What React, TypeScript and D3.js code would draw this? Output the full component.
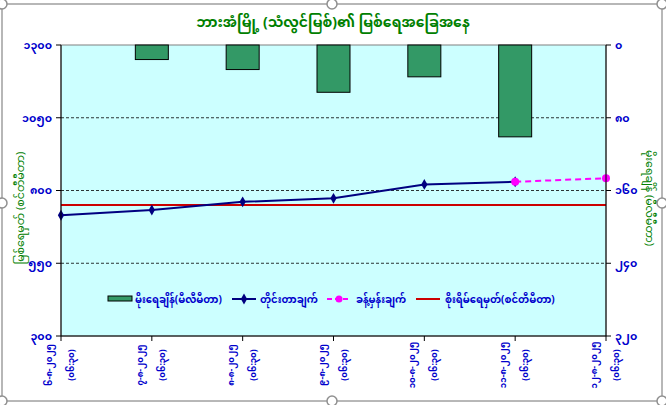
import * as d3 from 'd3'

const dates = ['၆-၈-၂၀၂၅', '၇-၈-၂၀၂၅', '၈-၈-၂၀၂၅', '၉-၈-၂၀၂၅', '၁၀-၈-၂၀၂၅', '၁၁-၈-၂၀၂၅', '၁၂-၈-၂၀၂၅']
const times = ['(၀၆:၃၀)', '(၀၆:၃၀)', '(၀၆:၃၀)', '(၀၆:၃၀)', '(၀၆:၃၀)', '(၀၆:၃၀)', '(၀၆:၃၀)']
const rainfall: (number | null)[] = [null, 16, 27, 52, 35, 101, null]
const measured: (number | null)[] = [715, 733, 761, 773, 821, 830, null]
const forecast: (number | null)[] = [null, null, null, null, null, 830, 842]
const dangerLevel = 750

const leftTicks = [300, 550, 800, 1050, 1300]
const rightTicks = [0, 80, 160, 240, 320]

const myDigits = '၀၁၂၃၄၅၆၇၈၉'
const toMy = (n: number) => String(n).replace(/\d/g, d => myDigits[+d])

const title = 'ဘားအံမြို့ (သံလွင်မြစ်)၏ မြစ်ရေအခြေအနေ'
const leftTitle = 'မြစ်ရေမှတ် (စင်တီမီတာ)'
const rightTitle = 'မိုးရေချိန် (မီလီမီတာ)'
const legendNames = ['မိုးရေချိန်(မီလီမီတာ)', 'တိုင်းတာချက်', 'ခန့်မှန်းချက်', 'စိုးရိမ်ရေမှတ်(စင်တီမီတာ)']

const W = 666
const H = 405
const plot = { left: 61, right: 606, top: 45, bottom: 336 }
const FONT = '"Noto Sans Myanmar", "Myanmar Text", Padauk, "Noto Sans", sans-serif'
const BLUE = '#0000cc'
const GREEN = '#008000'

export default function App() {
  const x = d3.scalePoint<number>()
    .domain(dates.map((_, i) => i))
    .range([plot.left, plot.right])
  const yL = d3.scaleLinear().domain([300, 1300]).range([plot.bottom, plot.top])
  const yR = d3.scaleLinear().domain([0, 320]).range([plot.top, plot.bottom])
  const barW = 33

  const line = d3.line<number | null>()
    .defined(d => d != null)
    .x((_, i) => x(i)!)
    .y(d => yL(d as number))

  const diamond = d3.symbol(d3.symbolDiamond, 34)()
  const handles = [
    [2, 4], [332, 4], [662, 4],
    [2, 203], [662, 203],
    [2, 401], [332, 401], [662, 401],
  ]

  const legY = 299
  return (
    <svg width={W} height={H} style={{ position: 'absolute', left: 0, top: 0, fontFamily: FONT }}>
      <rect x={0} y={0} width={W} height={H} fill="#fff" />
      {/* chart border */}
      <rect x={2} y={4} width={660} height={397} fill="#fff" stroke="#a0a0a0" strokeWidth={1.5} />

      <text x={333} y={27} textAnchor="middle" fill={GREEN} fontSize={14} fontWeight="bold">{title}</text>

      {/* plot area */}
      <rect x={plot.left} y={plot.top} width={plot.right - plot.left} height={plot.bottom - plot.top}
        fill="#ccffff" stroke="#808080" strokeWidth={1} />

      {leftTicks.slice(1, -1).map(t => (
        <line key={t} x1={plot.left} x2={plot.right} y1={yL(t)} y2={yL(t)}
          stroke="#000" strokeWidth={0.8} strokeDasharray="3,2" />
      ))}

      {/* rainfall bars */}
      {rainfall.map((v, i) => v == null ? null : (
        <rect key={i} x={x(i)! - barW / 2} y={yR(0)} width={barW} height={yR(v) - yR(0)}
          fill="#339966" stroke="#000" strokeWidth={1} />
      ))}

      {/* danger level */}
      <line x1={plot.left} x2={plot.right} y1={yL(dangerLevel)} y2={yL(dangerLevel)} stroke="#cc0000" strokeWidth={2} />

      {/* measured */}
      <path d={line(measured) ?? ''} fill="none" stroke="#000080" strokeWidth={2} />
      {measured.map((v, i) => v == null ? null : (
        <path key={i} d={diamond} transform={`translate(${x(i)},${yL(v)})`} fill="#000080" />
      ))}

      {/* forecast */}
      <path d={line(forecast) ?? ''} fill="none" stroke="#ff00ff" strokeWidth={2} strokeDasharray="6,4" />
      {forecast.map((v, i) => v == null ? null : (
        <circle key={i} cx={x(i)} cy={yL(v)} r={4} fill="#ff00ff" />
      ))}

      {/* axes */}
      <line x1={plot.left} x2={plot.left} y1={plot.top} y2={plot.bottom} stroke="#000" />
      <line x1={plot.right} x2={plot.right} y1={plot.top} y2={plot.bottom} stroke="#000" />
      <line x1={plot.left} x2={plot.right} y1={plot.bottom} y2={plot.bottom} stroke="#000" />

      {leftTicks.map(t => (
        <g key={t}>
          <line x1={plot.left - 5} x2={plot.left} y1={yL(t)} y2={yL(t)} stroke="#000" />
          <text x={plot.left - 9} y={yL(t)} dy="0.35em" textAnchor="end" fill={BLUE} fontSize={11} fontWeight="bold">{toMy(t)}</text>
        </g>
      ))}
      {rightTicks.map(t => (
        <g key={t}>
          <line x1={plot.right} x2={plot.right + 5} y1={yR(t)} y2={yR(t)} stroke="#000" />
          <text x={plot.right + 9} y={yR(t)} dy="0.35em" textAnchor="start" fill={BLUE} fontSize={11} fontWeight="bold">{toMy(t)}</text>
        </g>
      ))}
      {dates.map((d, i) => (
        <g key={i}>
          <line x1={x(i)} x2={x(i)} y1={plot.bottom} y2={plot.bottom + 5} stroke="#000" />
          <g transform={`translate(${x(i)},365) rotate(-90)`}>
            <text x={0} y={-9} textAnchor="middle" fill={BLUE} fontSize={8.5} fontWeight="bold">{d}</text>
            <text x={0} y={13} textAnchor="middle" fill={BLUE} fontSize={8.5} fontWeight="bold">{times[i]}</text>
          </g>
        </g>
      ))}

      <text transform="translate(24,208) rotate(-90)" textAnchor="middle" fill={GREEN} fontSize={11}>{leftTitle}</text>
      <text transform="translate(646,198) rotate(90)" textAnchor="middle" fill={GREEN} fontSize={11}>{rightTitle}</text>

      {/* legend */}
      <g fontSize={10} fill={BLUE} fontWeight="bold">
        <rect x={108} y={legY - 3} width={24} height={5} fill="#339966" stroke="#000" />
        <text x={135} y={legY} dy="0.35em">{legendNames[0]}</text>
        <line x1={232} x2={256} y1={legY} y2={legY} stroke="#000080" strokeWidth={2} />
        <path d={diamond} transform={`translate(244,${legY})`} fill="#000080" />
        <text x={260} y={legY} dy="0.35em">{legendNames[1]}</text>
        <line x1={327} x2={351} y1={legY} y2={legY} stroke="#ff00ff" strokeWidth={2} strokeDasharray="5,3" />
        <circle cx={339} cy={legY} r={3.5} fill="#ff00ff" />
        <text x={356} y={legY} dy="0.35em">{legendNames[2]}</text>
        <line x1={416} x2={440} y1={legY} y2={legY} stroke="#cc0000" strokeWidth={2} />
        <text x={445} y={legY} dy="0.35em">{legendNames[3]}</text>
      </g>

      {/* selection handles */}
      {handles.map(([hx, hy], i) => (
        <circle key={i} cx={hx} cy={hy} r={5} fill="#fff" stroke="#909090" strokeWidth={1.5} />
      ))}
    </svg>
  )
}
